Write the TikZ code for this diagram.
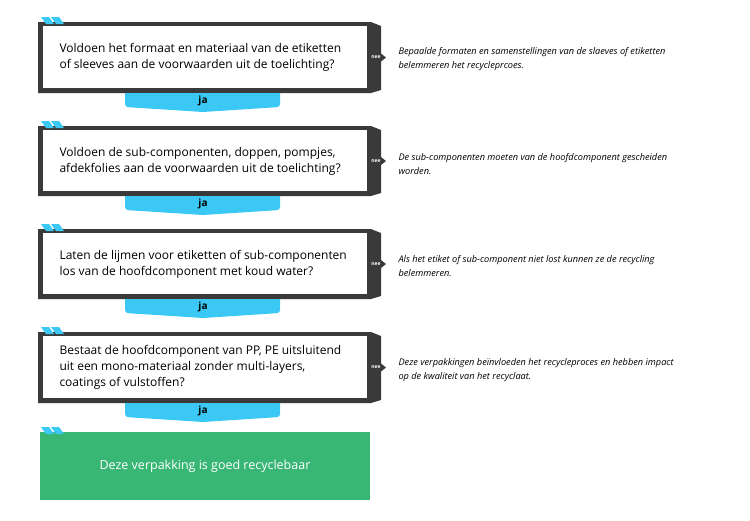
\documentclass[tikz,border=0pt]{standalone}
\usepackage{fontspec}
\setmainfont{Open Sans}
\definecolor{dark}{HTML}{3A3A3A}
\definecolor{sky}{HTML}{3CC8F4}
\definecolor{grn}{HTML}{38B673}
\begin{document}
\begin{tikzpicture}[x=1pt,y=-1pt,
  q/.style={font=\fontsize{12}{16}\selectfont,anchor=west,align=left,text=black},
  note/.style={font=\itshape\fontsize{9.2}{13.5}\selectfont,anchor=west,align=left},
  nee/.style={font=\bfseries\fontsize{5}{6}\selectfont,text=white,inner sep=0pt},
  ja/.style={font=\bfseries\fontsize{10}{12}\selectfont,text=black,inner sep=0pt}]
\useasboundingbox (0,0) rectangle (750,520);
\newcommand\qbox[6]{% top, bottom, name, text, note, notey
  \fill[dark] (38,#1) -- (371,#1) -- (381,#1+4) -- (381,{(#1+#2)/2-4}) -- (386,{(#1+#2)/2}) -- (381,{(#1+#2)/2+4}) -- (381,#2-3) -- (371,#2) -- (38,#2) -- cycle;
  \fill[white] (43,#1+4) rectangle (367,#2-5);
  \fill[sky] (41,#1-5) -- (49,#1-5) -- (54,#1+2) -- (46,#1+2) -- cycle;
  \fill[sky] (51,#1-5) -- (59,#1-5) -- (64,#1+2) -- (56,#1+2) -- cycle;
  \node[q] (#3) at (56,{(#1+#2)/2}) {#4};
  \node[nee] (#3n) at (376,{(#1+#2)/2}) {nee};
  \node[note] (#3t) at (395,#6) {#5};
}
\newcommand\jatab[2]{% top, name
  \fill[sky, rounded corners=3pt] (125,#1) -- (125,#1+14) -- (203,#1+19) -- (280,#1+14) -- (280,#1);
  \fill[sky] (125,#1) rectangle (280,#1+5);
  \node[ja] (#2) at (203,#1+8) {ja};
}
\qbox{22}{93}{b1}{Voldoen het formaat en materiaal van de etiketten\\of sleeves aan de voorwaarden uit de toelichting?}{Bepaalde formaten en samenstellingen van de slaeves of etiketten\\belemmeren het recycleprcoes.}{59}
\jatab{93}{j1}
\qbox{126}{196}{b2}{Voldoen de sub-componenten, doppen, pompjes,\\afdekfolies aan de voorwaarden uit de toelichting?}{De sub-componenten moeten van de hoofdcomponent gescheiden\\worden.}{164}
\jatab{196}{j2}
\qbox{229}{299}{b3}{Laten de lijmen voor etiketten of sub-componenten\\los van de hoofdcomponent met koud water?}{Als het etiket of sub-component niet lost kunnen ze de recycling\\belemmeren.}{266}
\jatab{299}{j3}
\qbox{332}{403}{b4}{Bestaat de hoofdcomponent van PP, PE uitsluitend\\uit een mono-materiaal zonder multi-layers,\\coatings of vulstoffen?}{Deze verpakkingen beïnvloeden het recycleproces en hebben impact\\op de kwaliteit van het recyclaat.}{370}
\jatab{403}{j4}
\fill[grn] (40,432) rectangle (370,500);
\fill[sky] (41,427) -- (49,427) -- (54,434) -- (46,434) -- cycle;
\fill[sky] (51,427) -- (59,427) -- (64,434) -- (56,434) -- cycle;
\node[font=\fontsize{12.5}{14}\selectfont,text=white] (g) at (205,466) {Deze verpakking is goed recyclebaar};
\end{tikzpicture}
\end{document}
